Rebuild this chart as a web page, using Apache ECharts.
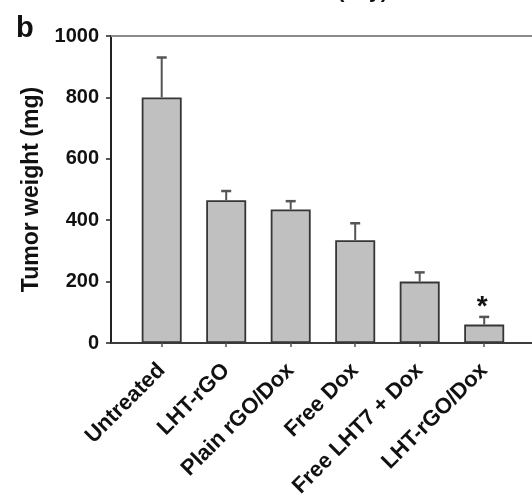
<!DOCTYPE html>
<html>
<head>
<meta charset="utf-8">
<script src="https://cdn.jsdelivr.net/npm/echarts@6/dist/echarts.min.js"></script>
<style>
  html, body { margin: 0; padding: 0; background: #fff; }
  #chart { width: 532px; height: 498px; }
</style>
</head>
<body>
<div id="chart"></div>
<script>
// Tumor weight at end of treatment, mean + SD (mg)
const groups = ['Untreated', 'LHT-rGO', 'Plain rGO/Dox', 'Free Dox', 'Free LHT7 + Dox', 'LHT-rGO/Dox'];
const meanWeight = [800, 465, 435, 335, 200, 60];
const sdWeight = [130, 30, 27, 55, 30, 25];
const significance = ['', '', '', '', '', '*'];
const yTicks = [0, 200, 400, 600, 800, 1000];

const FONT = '"Liberation Sans", Arial, sans-serif';
const chart = echarts.init(document.getElementById('chart'), null, { renderer: 'canvas' });

const errorData = groups.map((g, i) => [i, meanWeight[i], meanWeight[i] + sdWeight[i], significance[i]]);

chart.setOption({
  animation: false,
  backgroundColor: '#ffffff',
  textStyle: { fontFamily: FONT },
  grid: [
    // frame grid: axes lines, y ticks and labels
    { left: 111, right: -20, top: 36, bottom: 155, containLabel: false, outerBoundsMode: 'none' },
    // data grid: one band per group
    { left: 129.45, right: 15.55, top: 36, bottom: 155, containLabel: false, outerBoundsMode: 'none' }
  ],
  xAxis: [
    {
      gridIndex: 0, type: 'value', min: 0, max: 1, position: 'bottom',
      axisLine: { show: true, lineStyle: { color: '#3c3c3c', width: 2 } },
      axisTick: { show: false }, axisLabel: { show: false }, splitLine: { show: false }
    },
    {
      gridIndex: 0, type: 'value', min: 0, max: 1, position: 'top',
      axisLine: { show: true, lineStyle: { color: '#8a8a8a', width: 2 } },
      axisTick: { show: false }, axisLabel: { show: false }, splitLine: { show: false }
    },
    {
      gridIndex: 1, type: 'category', data: groups,
      axisLine: { show: false },
      axisTick: { show: true, alignWithLabel: true, inside: false, length: 4, lineStyle: { color: '#555', width: 1.5 } },
      axisLabel: {
        rotate: 45, margin: 24, interval: 0,
        fontFamily: FONT, fontWeight: 'bold', fontSize: 22, color: '#111'
      },
      splitLine: { show: false }
    }
  ],
  yAxis: [
    {
      gridIndex: 0, type: 'value', min: 0, max: 1000, interval: 200,
      name: 'Tumor weight (mg)', nameLocation: 'middle', nameGap: 67,
      nameTextStyle: { fontFamily: FONT, fontWeight: 'bold', fontSize: 23, color: '#111' },
      axisLine: { show: true, lineStyle: { color: '#222', width: 2 } },
      axisTick: { show: true, length: 5, lineStyle: { color: '#222', width: 1.5 } },
      axisLabel: {
        margin: 12, fontFamily: FONT, fontWeight: 'bold', fontSize: 20, color: '#111',
        formatter: function (v) { return String(v); }
      },
      splitLine: { show: false }
    },
    {
      gridIndex: 1, type: 'value', min: 0, max: 1000, interval: 200, show: false
    }
  ],
  series: [
    {
      type: 'bar', xAxisIndex: 2, yAxisIndex: 1,
      data: meanWeight, barWidth: 40,
      itemStyle: { color: '#c0c0c0', borderColor: '#363636', borderWidth: 1.8 },
      z: 2
    },
    {
      // upper error bars, plus significance mark above them
      type: 'custom', xAxisIndex: 2, yAxisIndex: 1,
      data: errorData,
      z: 3,
      renderItem: function (params, api) {
        const x = api.coord([api.value(0), 0])[0];
        const yMean = api.coord([api.value(0), api.value(1)])[1];
        const yTop = api.coord([api.value(0), api.value(2)])[1];
        const mark = significance[params.dataIndex];
        const half = 5;
        const children = [
          { type: 'line', shape: { x1: x, y1: yMean, x2: x, y2: yTop }, style: { stroke: '#555', lineWidth: 2 } },
          { type: 'line', shape: { x1: x - half, y1: yTop, x2: x + half, y2: yTop }, style: { stroke: '#555', lineWidth: 2.5 } }
        ];
        if (mark) {
          children.push({
            type: 'text',
            style: {
              x: x - 2, y: yTop - 10, text: mark,
              font: 'bold 28px ' + FONT, fill: '#111',
              align: 'center', verticalAlign: 'middle'
            }
          });
        }
        return { type: 'group', children: children };
      }
    }
  ],
  graphic: [
    {
      type: 'text', left: 16, top: 14,
      style: { text: 'b', font: 'bold 29px ' + FONT, fill: '#111' }
    },
    {
      type: 'text', left: 283, top: -18,
      style: { text: 'Time (day)', font: 'bold 21px ' + FONT, fill: '#111' }
    }
  ]
});
</script>
</body>
</html>
